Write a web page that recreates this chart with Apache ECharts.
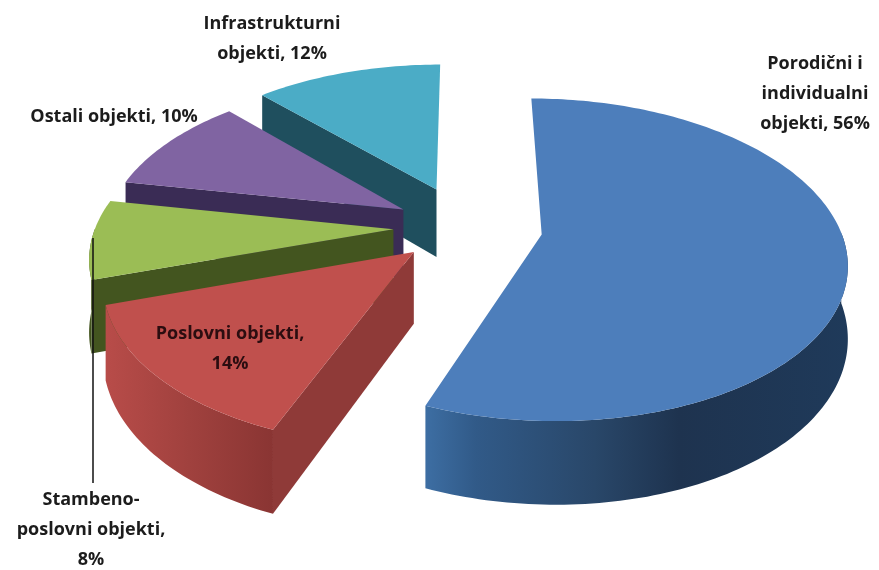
<!DOCTYPE html>
<html><head><meta charset="utf-8">
<style>html,body{margin:0;padding:0;background:#fff}#c{width:879px;height:570px}</style>
<script src="https://cdn.jsdelivr.net/npm/echarts@6/dist/echarts.min.js"></script>
</head><body><div id="c"></div>
<script>
var categories = ["Porodični i individualni objekti","Poslovni objekti","Stambeno-poslovni objekti","Ostali objekti","Infrastrukturni objekti"];
var shares = [56,14,8,10,12];
var explode = [0.26,0.23,0.24,0.24,0.27];
var topColors = ["#4d7ebb","#c0504d","#9bbd55","#8064a2","#4bacc6"];
var sideColors = ["#2a4a72","#8f3a38","#43551f","#3a2c55","#1f4f5e"];
var labelTexts = ["Porodični i\nindividualni\nobjekti, 56%","Poslovni objekti,\n14%","Stambeno-\nposlovni objekti,\n8%","Ostali objekti, 10%","Infrastrukturni\nobjekti, 12%"];
var labelCenters = [[815,94],[230,349],[91,530],[114,117],[272,39]];
var paintOrder = [4,3,2,1,0];

var C = {cx:465, cy:227, rx:298, ry:155, k:0.155, depth:70};
function proj(X,Y,z){
  var s = 1/(1+C.k*Y);
  return [C.cx + C.rx*X*s, C.cy - C.ry*Y*s + (z?C.depth*s:0)];
}
function rim(t,e,mid,z,r){
  var R = r===undefined?1:r;
  return proj(R*Math.sin(t)+e*Math.sin(mid), R*Math.cos(t)+e*Math.cos(mid), z);
}
var outerGrad = [
  [[0,"#3d6ea3"],[0.12,"#315a88"],[0.4,"#294769"],[0.6,"#1e334f"],[1,"#1f3a5a"]],
  [[0,"#b84c49"],[0.5,"#a0413e"],[1,"#8a3533"]],
  [[0,"#43551f"],[1,"#43551f"]]
];
var total = shares.reduce(function(a,b){return a+b},0);
var bounds = [], acc = 0;
shares.forEach(function(v){ bounds.push([acc/total*2*Math.PI,(acc+v)/total*2*Math.PI]); acc+=v; });

function renderItem(params, api){
  var i = paintOrder[params.dataIndex], a0 = bounds[i][0], a1 = bounds[i][1], mid=(a0+a1)/2, e=explode[i];
  var top=[], outerT=[], outerB=[], n=Math.max(8,Math.round((a1-a0)/0.02));
  for(var j=0;j<=n;j++){
    var t=a0+(a1-a0)*j/n;
    top.push(rim(t,e,mid,false));
    if(Math.cos(t)<0.02){ outerT.push(rim(t,e,mid,false)); outerB.push(rim(t,e,mid,true)); }
  }
  var apex=rim(0,e,mid,false,0), apexB=rim(0,e,mid,true,0);
  var kids=[];
  if(Math.sin(a0)<-1e-6) kids.push({type:'polygon',shape:{points:[apex,rim(a0,e,mid,false),rim(a0,e,mid,true),apexB]},style:{fill:sideColors[i]}});
  if(Math.sin(a1)>1e-6) kids.push({type:'polygon',shape:{points:[apex,rim(a1,e,mid,false),rim(a1,e,mid,true),apexB]},style:{fill:sideColors[i]}});
  if(outerT.length>1){
    var stops=(outerGrad[i]||outerGrad[2]).map(function(s){return {offset:s[0],color:s[1]}});
    kids.push({type:'polygon',shape:{points:outerT.concat(outerB.slice().reverse())},
      style:{fill:new echarts.graphic.LinearGradient(0,0,1,0,stops)}});
  }
  kids.push({type:'polygon',shape:{points:[apex].concat(top)},style:{fill:topColors[i]}});
  return {type:'group',children:kids};
}
var chart = echarts.init(document.getElementById('c'),null,{renderer:'canvas'});
chart.setOption({
  animation:false,
  backgroundColor:'#fff',
  series:[{type:'custom',coordinateSystem:'none',renderItem:renderItem,
    data:paintOrder.map(function(k){return {name:categories[k],value:shares[k]}})}],
  graphic:labelTexts.map(function(t,i){
    return {type:'text',x:labelCenters[i][0],y:labelCenters[i][1],z:100,
      style:{text:t,fill:i===1?'#2b0d10':'#1c1c1c',font:'bold 18px "Open Sans"',lineHeight:30,align:'center',verticalAlign:'middle'}};
  }).concat([{type:'line',z:90,shape:{x1:93,y1:238,x2:93,y2:483},style:{stroke:'#111',lineWidth:1.5}}])
});
</script></body></html>
